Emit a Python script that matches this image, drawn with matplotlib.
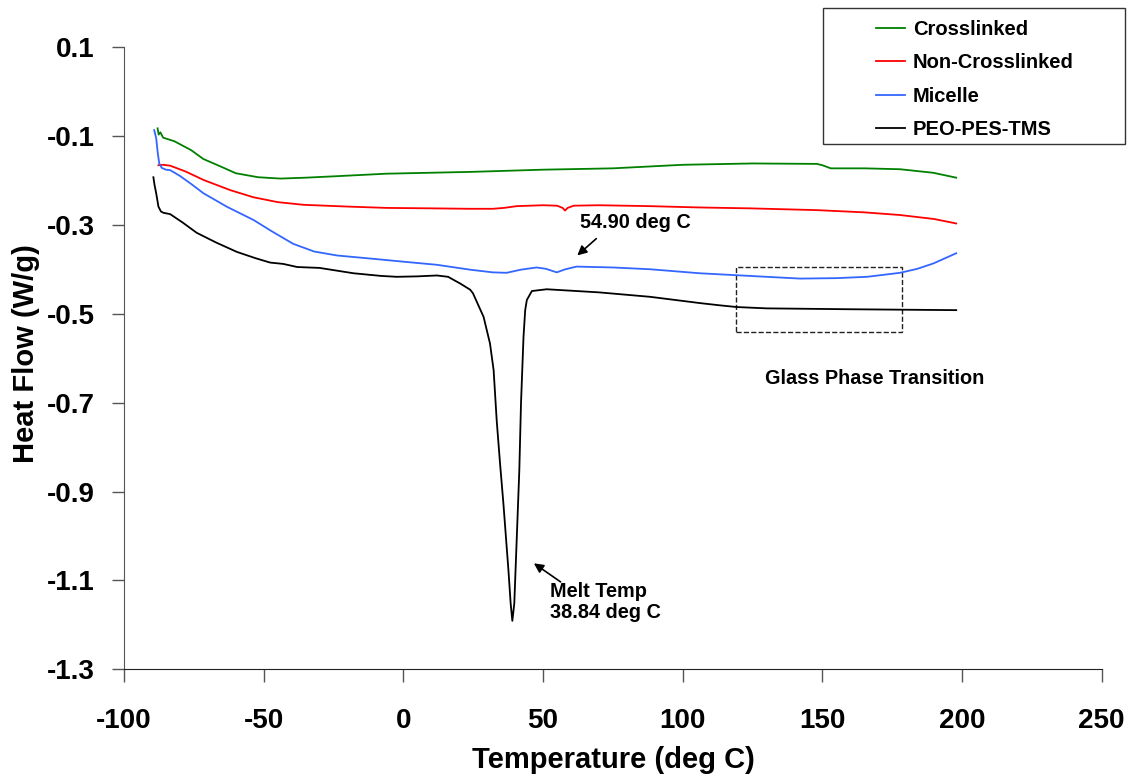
import matplotlib
matplotlib.use("Agg")
import matplotlib.pyplot as plt

plt.rcParams["font.family"] = ["Liberation Sans", "DejaVu Sans"]
plt.rcParams["font.weight"] = "bold"
plt.rcParams["axes.unicode_minus"] = False

# --- data ------------------------------------------------------------------
cross_x = [-88, -87.6, -87, -86, -84, -82, -76, -71.6, -65, -60, -52, -44, -35, -25,
           -6, 24, 50, 75, 100, 125, 148, 150, 153, 165, 177.8, 189.7, 197.9]
cross_y = [-0.083, -0.097, -0.092, -0.104, -0.108, -0.112, -0.132, -0.152, -0.170,
           -0.184, -0.193, -0.196, -0.194, -0.191, -0.185, -0.181, -0.176, -0.173,
           -0.165, -0.162, -0.163, -0.166, -0.173, -0.173, -0.175, -0.183, -0.194]

noncross_x = [-87.7, -86, -83.5, -78, -71.6, -62, -53.7, -45, -35.8, -20, -6, 10, 24,
              32, 36, 40.6, 50, 55, 57, 57.9, 58.8, 61, 70, 88, 106, 124, 148, 165,
              177.8, 190, 197.9]
noncross_y = [-0.166, -0.165, -0.167, -0.180, -0.199, -0.222, -0.238, -0.249, -0.255,
              -0.259, -0.262, -0.263, -0.264, -0.264, -0.262, -0.258, -0.256, -0.257,
              -0.262, -0.268, -0.262, -0.257, -0.256, -0.258, -0.261, -0.263, -0.267,
              -0.272, -0.278, -0.287, -0.297]

micelle_x = [-89.2, -88.5, -87.9, -87.4, -86.5, -85, -83.5, -80, -76, -71.6, -63, -53.7,
             -47, -39.4, -32, -23.8, -10, 0, 12, 23.9, 32, 37, 42, 47.7, 51, 54.9, 58,
             62, 75, 88.3, 106, 124, 142, 155, 166, 177.8, 184, 189.7, 194, 197.9]
micelle_y = [-0.087, -0.105, -0.140, -0.162, -0.172, -0.176, -0.177, -0.190, -0.208,
             -0.229, -0.260, -0.289, -0.315, -0.343, -0.360, -0.369, -0.377, -0.383,
             -0.390, -0.401, -0.407, -0.408, -0.401, -0.396, -0.399, -0.407, -0.400,
             -0.394, -0.396, -0.400, -0.409, -0.415, -0.421, -0.420, -0.417, -0.408,
             -0.399, -0.387, -0.375, -0.364]

peo_x = [-89.5, -89.1, -88.5, -88.2, -87.7, -86.8, -85.9, -83.5, -79, -74, -67, -59.6,
         -53, -47.7, -43, -38, -30, -17.9, -8, -2.4, 5, 12, 16, 18, 20.3, 23.9, 24.9,
         28.7, 31, 32.3, 33.4, 34.6, 35.8, 37.6, 38.4, 39, 39.7, 40.6, 41.5, 42.1, 43,
         43.6, 44.2, 46, 51.3, 70, 88.3, 106, 113, 119.3, 130, 160, 197.9]
peo_y = [-0.193, -0.210, -0.229, -0.240, -0.259, -0.270, -0.273, -0.276, -0.295, -0.318,
         -0.340, -0.361, -0.375, -0.385, -0.388, -0.395, -0.397, -0.409, -0.415, -0.417,
         -0.416, -0.414, -0.417, -0.424, -0.432, -0.446, -0.454, -0.507, -0.567, -0.627,
         -0.740, -0.837, -0.927, -1.077, -1.152, -1.191, -1.152, -1.002, -0.852, -0.702,
         -0.552, -0.492, -0.469, -0.449, -0.445, -0.452, -0.462, -0.476, -0.481, -0.485,
         -0.488, -0.490, -0.492]

series = [
    ("Crosslinked", cross_x, cross_y, "#008000"),
    ("Non-Crosslinked", noncross_x, noncross_y, "#ff0000"),
    ("Micelle", micelle_x, micelle_y, "#3366ff"),
    ("PEO-PES-TMS", peo_x, peo_y, "#000000"),
]

xticks = [-100, -50, 0, 50, 100, 150, 200, 250]
yticks = [0.1, -0.1, -0.3, -0.5, -0.7, -0.9, -1.1, -1.3]

# --- figure ----------------------------------------------------------------
fig = plt.figure(figsize=(11.35, 7.78), dpi=100)
ax = fig.add_axes([0.1093, 0.1397, 0.8614, 0.7999])

for label, xs, ys, c in series:
    ax.plot(xs, ys, color=c, lw=1.3, label=label)

ax.set_xlim(-100, 250)
ax.set_ylim(-1.3, 0.1)
ax.set_xticks(xticks)
ax.set_yticks(yticks)
ax.set_yticklabels([f"{v:.1f}" for v in yticks])

ax.spines["top"].set_visible(False)
ax.spines["right"].set_visible(False)
ax.spines["left"].set_color("#555555")
ax.spines["bottom"].set_color("#222222")
ax.tick_params(axis="x", direction="out", length=9, width=1, color="#555555",
               labelsize=20, pad=19)
ax.tick_params(axis="y", direction="out", length=9, width=1, color="#555555",
               labelsize=20, pad=12)

ax.set_xlabel("Temperature (deg C)", fontsize=21, fontweight="bold")
ax.set_ylabel("Heat Flow (W/g)", fontsize=21, fontweight="bold")
ax.xaxis.set_label_coords(0.501, -0.123)
ax.yaxis.set_label_coords(-0.086, 0.507)

# --- annotations -----------------------------------------------------------
ax.annotate("", xy=(61.5, -0.373), xytext=(69.8, -0.327),
            arrowprops=dict(arrowstyle="-|>", color="black", lw=1.2,
                            mutation_scale=14))
ax.text(63.2, -0.294, "54.90 deg C", fontsize=14.3, fontweight="bold",
        ha="left", va="center")

ax.annotate("", xy=(45.9, -1.058), xytext=(57.1, -1.107),
            arrowprops=dict(arrowstyle="-|>", color="black", lw=1.2,
                            mutation_scale=14))
ax.text(52.4, -1.149, "Melt Temp\n38.84 deg C", fontsize=14.3, fontweight="bold",
        ha="left", va="center", linespacing=1.1)

ax.add_patch(plt.Rectangle((118.9, -0.541), 178.5 - 118.9, 0.145, fill=False,
                           ls="--", lw=1.0, ec="#222222"))
ax.text(129.5, -0.645, "Glass Phase Transition", fontsize=14.3, fontweight="bold",
        ha="left", va="center")

# legend: frameless entries plus a separate box (the box is much wider than the text)
leg = fig.legend(loc="upper left", bbox_to_anchor=(0.7715, 0.9745),
                 bbox_transform=fig.transFigure, fontsize=14.5, frameon=False,
                 handlelength=1.45, handletextpad=0.4, labelspacing=0.72,
                 borderpad=0, borderaxespad=0)
for t in leg.get_texts():
    t.set_fontweight("bold")
fig.patches.append(plt.Rectangle((0.7254, 0.8149), 0.2658, 0.1744, fill=False,
                                 lw=1.0, ec="#333333", transform=fig.transFigure,
                                 figure=fig))

fig.savefig("out.png", dpi=100)
